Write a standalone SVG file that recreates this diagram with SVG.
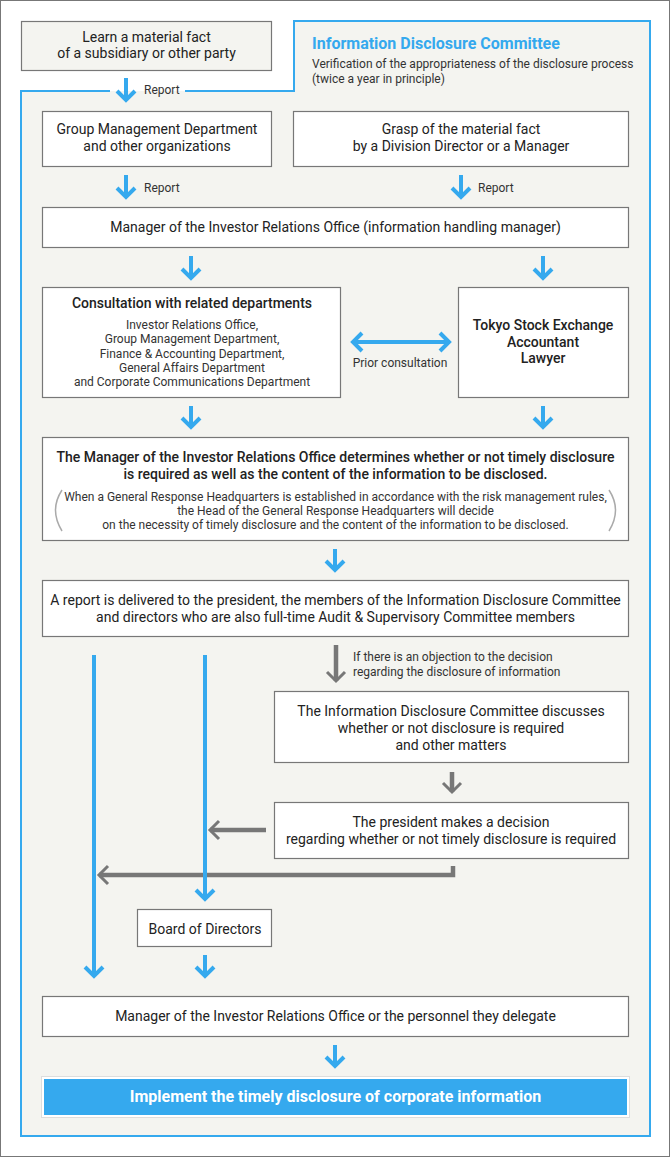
<svg xmlns="http://www.w3.org/2000/svg" width="670" height="1157" viewBox="0 0 670 1157">
<style>
.box{fill:#fff;stroke:#777;stroke-width:1.2}
.t{font-family:Roboto,"Liberation Sans",sans-serif;font-size:14px;fill:#222;text-anchor:middle}
.m{font-weight:500}
.s{font-family:Roboto,"Liberation Sans",sans-serif;font-size:12px;fill:#333;text-anchor:middle}
.l{font-family:Roboto,"Liberation Sans",sans-serif;font-size:12px;fill:#333}
.ba{fill:none;stroke:#35a9ee;stroke-width:4}
.ga{fill:none;stroke:#777;stroke-width:4.5}
.gh{fill:none;stroke:#777;stroke-width:3}
</style>
<rect x="0.5" y="0.5" width="669" height="1156" fill="#fff" stroke="#777" stroke-width="1"/>
<g id="committee-frame">
<polygon points="294,21 650,21 650,1136 21,1136 21,91 294,91" fill="#f4f4f0"/>
<path d="M110,91 H21 V1136 H650 V21 H294 V91 H185" fill="none" stroke="#35a9ee" stroke-width="2"/>
<text x="312" y="49" font-family="Roboto,'Liberation Sans',sans-serif" font-size="16" font-weight="700" fill="#35a9ee">Information Disclosure Committee</text>
<text class="l" x="312" y="67.5">Verification of the appropriateness of the disclosure process</text>
<text class="l" x="312" y="83">(twice a year in principle)</text>
</g>
<g id="n-learn">
<rect x="21.5" y="21.5" width="250" height="49" fill="#f4f4f0" stroke="#777" stroke-width="1.2"/>
<text class="t" x="146.5" y="41.5">Learn a material fact</text>
<text class="t" x="146.5" y="58">of a subsidiary or other party</text>
</g>
<g id="n-group">
<rect class="box" x="42.5" y="111.5" width="229" height="55"/>
<text class="t" x="157" y="133.5">Group Management Department</text>
<text class="t" x="157" y="150.5">and other organizations</text>
</g>
<g id="n-grasp">
<rect class="box" x="293.5" y="111.5" width="335" height="55"/>
<text class="t" x="461" y="133.5">Grasp of the material fact</text>
<text class="t" x="461" y="150.5">by a Division Director or a Manager</text>
</g>
<g id="n-manager">
<rect class="box" x="42.5" y="207.5" width="586" height="40"/>
<text class="t" x="335.5" y="231.5">Manager of the Investor Relations Office (information handling manager)</text>
</g>
<g id="n-consult">
<rect class="box" x="42.5" y="287.5" width="298" height="110"/>
<text class="t m" x="192" y="308">Consultation with related departments</text>
<text class="s" x="192" y="328.5">Investor Relations Office,</text>
<text class="s" x="192" y="343">Group Management Department,</text>
<text class="s" x="192" y="357.5">Finance &amp; Accounting Department,</text>
<text class="s" x="192" y="371.5">General Affairs Department</text>
<text class="s" x="192" y="386">and Corporate Communications Department</text>
</g>
<g id="n-tse">
<rect class="box" x="458.5" y="287.5" width="170" height="110"/>
<text class="t m" x="543" y="330">Tokyo Stock Exchange</text>
<text class="t m" x="543" y="347">Accountant</text>
<text class="t m" x="543" y="363">Lawyer</text>
</g>
<g id="n-determine">
<rect class="box" x="42.5" y="437.5" width="586" height="103"/>
<text class="t m" x="335.5" y="462">The Manager of the Investor Relations Office determines whether or not timely disclosure</text>
<text class="t m" x="335.5" y="478.5">is required as well as the content of the information to be disclosed.</text>
<path d="M62,490 Q49,510 62,531" fill="none" stroke="#aaa" stroke-width="1.5"/>
<path d="M609,490 Q622,510 609,531" fill="none" stroke="#aaa" stroke-width="1.5"/>
<text class="s" x="335.5" y="500.5">When a General Response Headquarters is established in accordance with the risk management rules,</text>
<text class="s" x="335.5" y="515">the Head of the General Response Headquarters will decide</text>
<text class="s" x="335.5" y="528.5">on the necessity of timely disclosure and the content of the information to be disclosed.</text>
</g>
<g id="n-report">
<rect class="box" x="42.5" y="580.5" width="586" height="56"/>
<text class="t" x="335.5" y="605">A report is delivered to the president, the members of the Information Disclosure Committee</text>
<text class="t" x="335.5" y="622">and directors who are also full-time Audit &amp; Supervisory Committee members</text>
</g>
<g id="n-idc">
<rect class="box" x="274.5" y="691.5" width="354" height="71"/>
<text class="t" x="451" y="716">The Information Disclosure Committee discusses</text>
<text class="t" x="451" y="733">whether or not disclosure is required</text>
<text class="t" x="451" y="749.5">and other matters</text>
</g>
<g id="n-president">
<rect class="box" x="274.5" y="802.5" width="354" height="56"/>
<text class="t" x="451" y="827">The president makes a decision</text>
<text class="t" x="451" y="844">regarding whether or not timely disclosure is required</text>
</g>
<g id="n-board">
<rect class="box" x="137.5" y="909.5" width="134" height="37"/>
<text class="t" x="205" y="933.5">Board of Directors</text>
</g>
<g id="n-delegate">
<rect class="box" x="42.5" y="996.5" width="586" height="40"/>
<text class="t" x="335.5" y="1021">Manager of the Investor Relations Office or the personnel they delegate</text>
</g>
<g id="n-implement">
<rect x="41.5" y="1076.5" width="588" height="41" fill="none" stroke="#ddd" stroke-width="1"/>
<rect x="43" y="1078" width="585" height="38" fill="#35a9ee" stroke="#fff" stroke-width="2"/>
<text x="335.5" y="1102" font-family="Roboto,'Liberation Sans',sans-serif" font-size="16" font-weight="700" fill="#fff" text-anchor="middle">Implement the timely disclosure of corporate information</text>
</g>
<g id="connectors">
<path class="ba" d="M126,78 V100 M117,91 L126,100 L135,91"/>
<text class="l" x="144" y="93.5">Report</text>
<path class="ba" d="M126,175 V197 M117,188 L126,197 L135,188"/>
<text class="l" x="144" y="191.5">Report</text>
<path class="ba" d="M461,175 V197 M452,188 L461,197 L470,188"/>
<text class="l" x="478" y="191.5">Report</text>
<path class="ba" d="M191,256 V278 M182,269 L191,278 L200,269"/>
<path class="ba" d="M543,256 V278 M534,269 L543,278 L552,269"/>
<path class="ba" d="M353,342 H449 M362,333 L353,342 L362,351 M440,333 L449,342 L440,351"/>
<text class="s" x="400" y="366.5" fill="#444">Prior consultation</text>
<path class="ba" d="M191,406 V427 M182,418 L191,427 L200,418"/>
<path class="ba" d="M543,406 V427 M534,418 L543,427 L552,418"/>
<path class="ba" d="M335,549 V570 M326,561 L335,570 L344,561"/>
<path class="ga" d="M336,645 V681"/>
<path class="gh" d="M327,672 L336,681 L345,672"/>
<text class="l" x="353" y="661" fill="#444">If there is an objection to the decision</text>
<text class="l" x="353" y="675.5" fill="#444">regarding the disclosure of information</text>
<path class="ga" d="M452,772 V792"/>
<path class="gh" d="M443,783 L452,792 L461,783"/>
<path class="ga" d="M266,830 H210"/>
<path class="gh" d="M219,821 L210,830 L219,839"/>
<path class="ga" d="M453,866 V875 H99"/>
<path class="gh" d="M108,866 L99,875 L108,884"/>
<path class="ba" d="M94,655 V976 M85,967 L94,976 L103,967"/>
<path class="ba" d="M205,655 V899 M196,890 L205,899 L214,890"/>
<path class="ba" d="M205,955 V976 M196,967 L205,976 L214,967"/>
<path class="ba" d="M335,1045 V1066 M326,1057 L335,1066 L344,1057"/>
</g>
</svg>
